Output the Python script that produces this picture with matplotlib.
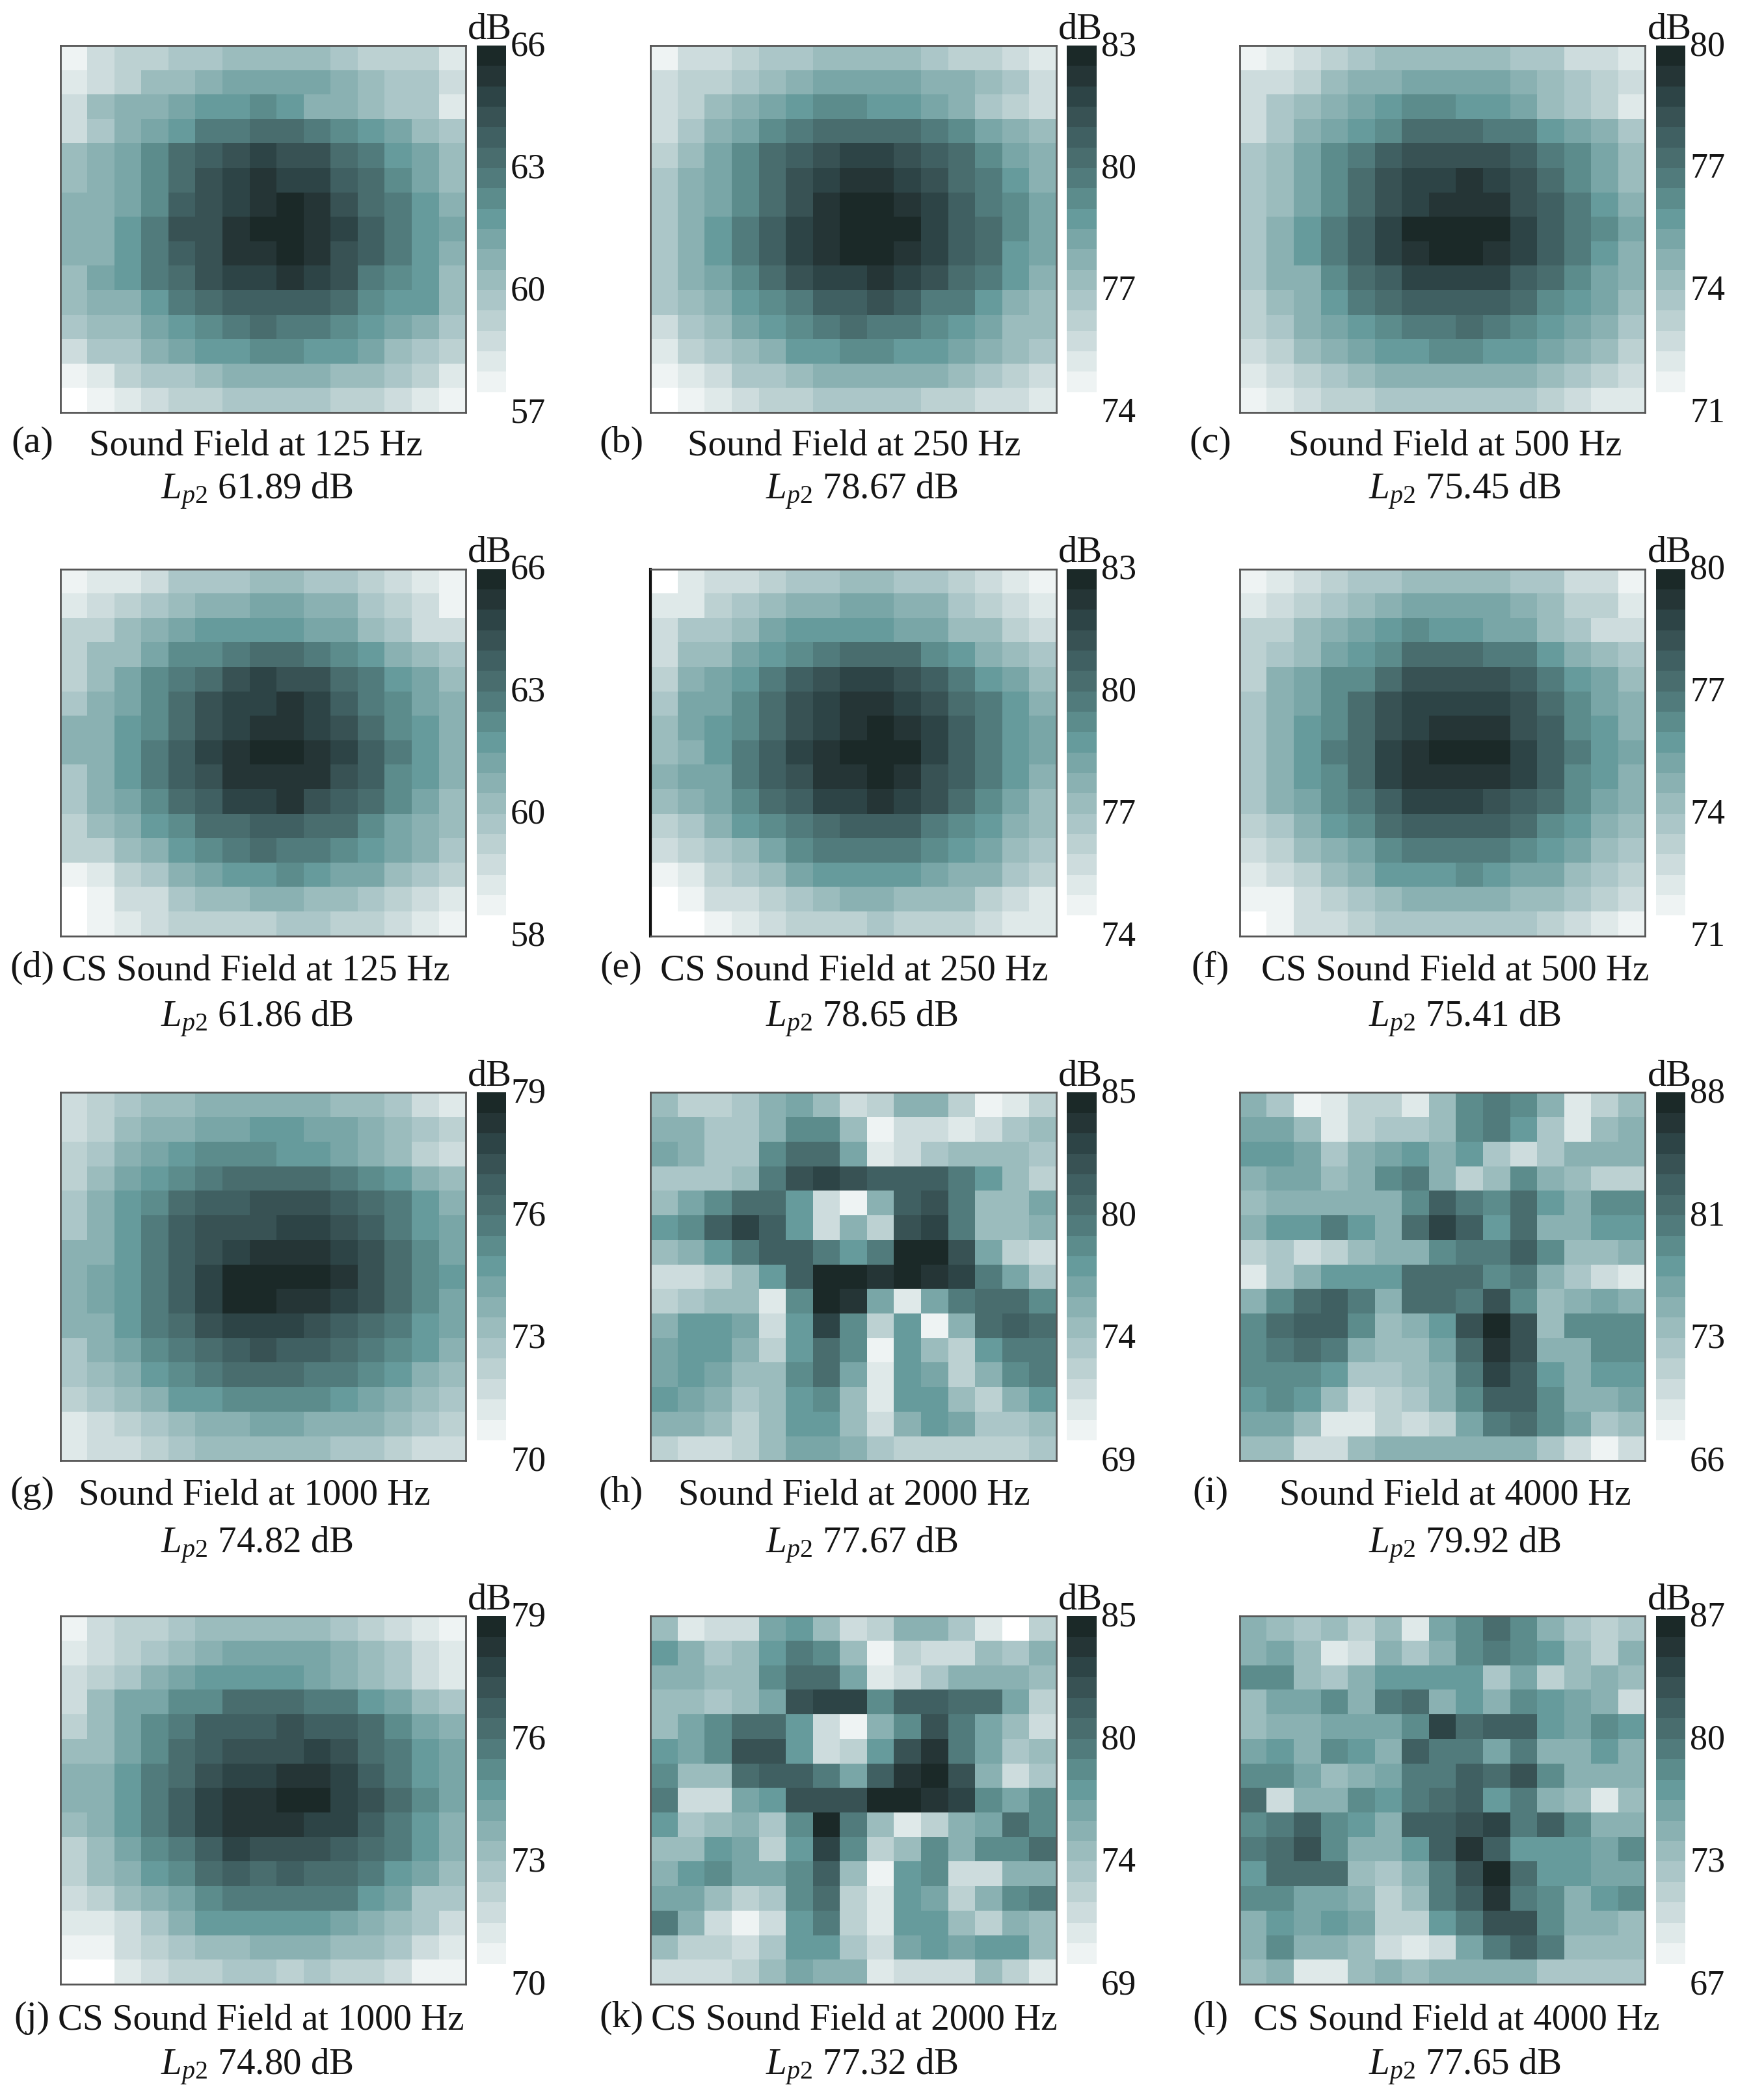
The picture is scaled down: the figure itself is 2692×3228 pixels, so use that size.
import numpy as np
import matplotlib
matplotlib.use("Agg")
import matplotlib.pyplot as plt
from matplotlib.colors import ListedColormap, Normalize
from matplotlib.cm import ScalarMappable
from matplotlib.transforms import ScaledTranslation

plt.rcParams['font.family'] = ['Liberation Serif', 'DejaVu Serif']
plt.rcParams['mathtext.fontset'] = 'custom'
plt.rcParams['mathtext.rm'] = 'Liberation Serif'
plt.rcParams['mathtext.it'] = 'Liberation Serif:italic'

# cell levels, one char per cell, base 18 (0 = lightest colorbar step)
field_a = ["13445 56666 54442", "23466 78888 76553", "36778 99a97 76552", "35789 bbccb a9865", "678ac defee cb986",
           "678ac efgff dca86", "778ad efghg ecb97", "779be eghhg fdb98", "779bd egghg edb97", "689bc effgf eba96",
           "6779b cdddd ca996", "56689 abcbb a9875", "35578 99aa9 98654", "12455 67777 66542", "01234 45555 44321"]
field_b = ["13345 56666 54432", "34456 78888 77653", "34678 9aa99 87543", "3578a bcccc ba876", "468ac deffe dca87",
           "578ac efggf ecb97", "578ac eghhg fdba8", "579bd fghhh fdca8", "579bd fghhg fdc98", "578ac effgf ecb97",
           "5679a bdded bb976", "35689 abcbb a9866", "24567 99aa9 98765", "12355 67777 76543", "01234 45555 44332"]
field_c = ["12345 66666 55332", "33467 78888 76543", "35678 9aa99 86542", "35789 acccb b9875", "568ab deeee dba86",
           "568ac effgf eca86", "568ac efggg edb97", "579bd fhhhh fdba8", "579bd fghhg fdb97", "577ac dffff dca87",
           "4679b cdddd ca986", "45789 abbcb a9875", "34678 99aa9 98764", "23456 77777 76543", "12344 55555 54322"]
field_d = ["12235 55665 54321", "23456 77887 75431", "44678 99998 86533", "4668a abccb a9765", "468ab cefee cb986",
           "578ac effgf dba87", "779ac efggf eca97", "779bd fghhg fdb97", "579bd egggg eda97", "578ac dffge dca86",
           "4679a ccddc ca876", "44679 abcbb a9875", "12457 899a9 88654", "01335 66776 65432", "01234 44455 44321"]
field_e = ["02334 55665 54321", "22456 77887 75432", "35568 99998 86643", "36689 abccc a9765", "4789b deffe db986",
           "588ac efggf ecb97", "689ac efghg fdb98", "679bd fghhh fdb98", "788bd egghg edb97", "678ac dffgf eca86",
           "4579a bcddd ba976", "34568 abbbb a9865", "12456 89999 87754", "01334 56776 66432", "00123 44454 44322"]
field_f = ["12345 56666 55331", "23456 78888 76442", "44678 9a998 86533", "45689 acccb b9765", "478aa ceeee db986",
           "578ac effff eca87", "579ac efggg eda97", "579bc fghhh fdb98", "579ac fgggg fda97", "578ab dfffe dca87",
           "4579a cdddd ca976", "34678 abbbb a9865", "23467 999a9 88654", "11345 67777 66543", "01334 55555 54321"]
field_g = ["34566 77777 66532", "34677 88998 87654", "45789 aaa99 87643", "4689a bcccc ba976", "579ac ddeee dcb97",
           "579bd eeeff edb98", "779bd efggg feca8", "789bd fhhhh geca9", "789bd fhhgg feca8", "779bc efffe dcb98",
           "578ab cdedd cba97", "5679a bcccb ba976", "45679 9aaaa 98765", "23456 77887 77654", "23345 66666 55433"]
field_h = ["64457 86347 74124", "77557 aa613 32356", "8755a cc823 56665", "5556b efedd db964", "68acc 9317d eb668",
           "9adfd 9374e fb667", "679bd db9bh he843", "33469 dhhgh gfb85", "45662 ahg82 8bcca", "79983 9fa49 17cdc",
           "89974 9ca19 649bb", "89866 ac829 847ab", "98756 9a629 96479", "77646 99637 98556", "43346 88754 44445"]
field_i = ["75124 426ab a7246", "88624 556ab 95267", "99857 89795 35777", "78867 ab746 a7644", "67777 7adba c97aa",
           "799b9 7cfd9 c7799", "45346 77abb da667", "25799 9ccca b7532", "7acdb 7ccbe a6787", "acdda 679eh e6aaa",
           "abcb7 668cg e77aa", "aaa95 567bf d9799", "9a963 457ad da778", "88622 4348b ca856", "66336 77777 75313"]
field_j = ["13445 66666 54321", "23456 78888 76532", "34578 99998 76532", "3688a acccb b9865", "468ab ddded dca87",
           "668ac deeef ecb98", "779bc effgg fdb98", "779bd fgghh feca8", "679bd fgggf fdb97", "468ab dfeee dcb97",
           "4679a cdcdc cb986", "34678 abbbb b9855", "22357 99999 87653", "11345 66777 66532", "00234 45545 44311"]
field_k = ["62338 96347 75204", "97569 ba614 33657", "7766a cc823 57776", "66568 effad dcc84", "68acc 9317a eb863",
           "98aee 9349e gb856", "a66cd db8dg he735", "b3389 eeehh gfa8a", "95675 ahb62 478ca", "66984 9fa46 a7aac",
           "79a88 ad619 a3377", "88645 ac429 847ab", "b7313 9b429 96476", "64435 99538 98996", "33346 87723 33642"]
field_l = ["76564 628ac a7545", "78623 757ab a9647", "aa657 99995 84676", "688a7 bc797 a9873", "67788 8afcd d98a9",
           "897a9 7dbb8 b7797", "aa867 8bbdc ea777", "c377a 9bcd9 b7626", "abda9 7ddef bda77", "bcea7 79dgd 9998a",
           "9ccc6 57beh c9988", "aa887 46bdg ba79a", "79898 449be ea776", "7a776 3238b db666", "67226 76777 75555"]

ticks_a = ["57", "60", "63", "66"]
ticks_b = ["74", "77", "80", "83"]
ticks_c = ["71", "74", "77", "80"]
ticks_d = ["58", "60", "63", "66"]
ticks_e = ["74", "77", "80", "83"]
ticks_f = ["71", "74", "77", "80"]
ticks_g = ["70", "73", "76", "79"]
ticks_h = ["69", "74", "80", "85"]
ticks_i = ["66", "73", "81", "88"]
ticks_j = ["70", "73", "76", "79"]
ticks_k = ["69", "74", "80", "85"]
ticks_l = ["67", "73", "80", "87"]

fields = [field_a, field_b, field_c, field_d, field_e, field_f, field_g, field_h, field_i, field_j, field_k, field_l]
ticks = [ticks_a, ticks_b, ticks_c, ticks_d, ticks_e, ticks_f, ticks_g, ticks_h, ticks_i, ticks_j, ticks_k, ticks_l]

letters = list("abcdefghijkl")
freqs = [125, 250, 500] * 2 + [1000, 2000, 4000] * 2
lp2 = ["61.89", "78.67", "75.45", "61.86", "78.65", "75.41", "74.82", "77.67", "79.92", "74.80", "77.32", "77.65"]

colors = ["#ffffff", "#eef3f3", "#dfe9e9", "#cddcdd", "#bcd1d2", "#abc6c8", "#9bbcbd", "#8ab1b2", "#79a6a7",
          "#669b9c", "#5c8c8c", "#517b7c", "#496d6e", "#406062", "#385254", "#2d4446", "#253536", "#1b2928"]
cmap = ListedColormap(colors)

W, H = 2692, 3228
S = W / 1308  # positions below were measured on the 1308 px view

col_x = [(45, 348), (486, 789), (926, 1229)]
row_y = [(34, 308), (425, 699), (816, 1091), (1207, 1482)]
cap_x = [191, 638, 1087, 191, 638, 1087, 190, 638, 1087, 195, 638, 1088]
lp_x = [192, 644, 1094, 192, 644, 1094, 192, 644, 1094, 192, 644, 1094]
cap_y = [333, 725, 1117, 1509]
lp_y = [367, 761, 1154, 1544]
lab_x = [24, 464, 904]


def add_axes(fig, x0, x1, y0, y1):
    return fig.add_axes([x0 * S / W, 1 - y1 * S / H, (x1 - x0) * S / W, (y1 - y0) * S / H])


def put_text(fig, x, y, s, **kw):
    fig.text(x * S / W, 1 - y * S / H, s, ha='center', va='center', color='#151515', **kw)


fig = plt.figure(figsize=(W / 100, H / 100), dpi=100)
lift = ScaledTranslation(0, 0.04, fig.dpi_scale_trans)  # tick labels sit a bit above their step

for i in range(12):
    row, col = i // 3, i % 3
    (x0, x1), (y0, y1) = col_x[col], row_y[row]
    tk = [int(t) for t in ticks[i]]
    vmin, vmax = tk[0], tk[-1]
    levels = np.array([[int(c, 18) for c in r.replace(" ", "")] for r in fields[i]])
    values = vmin + (levels + 0.5) / 18 * (vmax - vmin)
    norm = Normalize(vmin, vmax)

    ax = add_axes(fig, x0, x1, y0, y1)
    ax.pcolormesh(values, cmap=cmap, norm=norm)
    ax.invert_yaxis()
    ax.set_xticks([])
    ax.set_yticks([])
    for sp in ax.spines.values():
        sp.set_color('#555555')
        sp.set_linewidth(2.0)
    if letters[i] == 'e':
        ax.spines['left'].set_color('#111111')
        ax.spines['left'].set_linewidth(3.0)

    cax = add_axes(fig, x1 + 8, x1 + 30, y0, y1)
    cb = fig.colorbar(ScalarMappable(norm=norm, cmap=cmap), cax=cax)
    cb.outline.set_visible(False)
    cb.set_ticks(np.linspace(vmin, vmax, 4), labels=ticks[i])
    cb.ax.tick_params(length=0, pad=5, labelsize=39, labelcolor='#151515')
    for t in cb.ax.get_yticklabels():
        t.set_transform(t.get_transform() + lift)

    put_text(fig, x1 + 18, y0 - 12, "dB", fontsize=42)
    put_text(fig, lab_x[col], cap_y[row] - 2, "(%s)" % letters[i], fontsize=42)
    name = "Sound Field at %d Hz" % freqs[i]
    if row % 2 == 1:
        name = "CS " + name
    put_text(fig, cap_x[i], cap_y[row], name, fontsize=41)
    put_text(fig, lp_x[i], lp_y[row], r"$\mathit{L}_{\mathit{p2}}$ %s dB" % lp2[i], fontsize=41)

fig.savefig("out.png", dpi=100, facecolor='white')
